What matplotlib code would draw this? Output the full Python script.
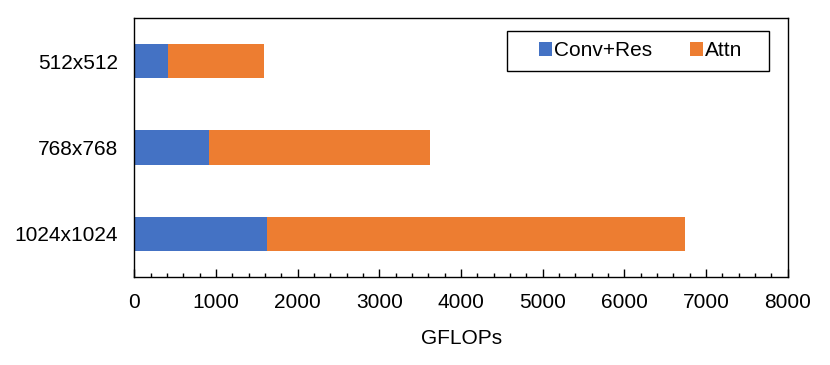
import matplotlib
matplotlib.use("Agg")
import matplotlib.pyplot as plt
from matplotlib.ticker import MultipleLocator
from matplotlib.patches import Rectangle

plt.rcParams['font.family'] = ['Liberation Sans', 'DejaVu Sans']

# data (GFLOPs)
resolutions = ['512x512', '768x768', '1024x1024']
conv_res = [405, 910, 1620]
attn = [1180, 2715, 5120]

fig = plt.figure(figsize=(8.3, 3.65), dpi=100)
ax = fig.add_axes([0.162, 0.241, 0.787, 0.710])

ypos = list(range(len(resolutions)))
ax.barh(ypos, conv_res, height=0.4, color='#4472C4', label='Conv+Res')
ax.barh(ypos, attn, left=conv_res, height=0.4, color='#ED7D31', label='Attn')

ax.set_yticks(ypos)
ax.set_yticklabels(resolutions, fontsize=15)
ax.set_ylim(2.5, -0.5)
ax.set_xlim(0, 8000)
ax.xaxis.set_major_locator(MultipleLocator(1000))
ax.xaxis.set_minor_locator(MultipleLocator(200))
ax.tick_params(axis='x', which='major', direction='in', length=6, width=1, labelsize=15, pad=11.5)
ax.tick_params(axis='x', which='minor', direction='in', length=3, width=1)
ax.tick_params(axis='y', length=0, pad=12)
for s in ax.spines.values():
    s.set_linewidth(1)
ax.set_xlabel('GFLOPs', fontsize=15, labelpad=12)

# legend box drawn separately (wide side padding like the original)
ax.add_patch(Rectangle((0.570, 0.795), 0.401, 0.155, transform=ax.transAxes,
                       fill=False, edgecolor='black', linewidth=1, zorder=5))
ax.legend(loc='center', bbox_to_anchor=(0.775, 0.873), ncol=2, fontsize=15,
          frameon=False, handlelength=0.62, handleheight=0.62,
          handletextpad=0.1, columnspacing=1.8, borderpad=0)

fig.savefig('out.png', dpi=100)
